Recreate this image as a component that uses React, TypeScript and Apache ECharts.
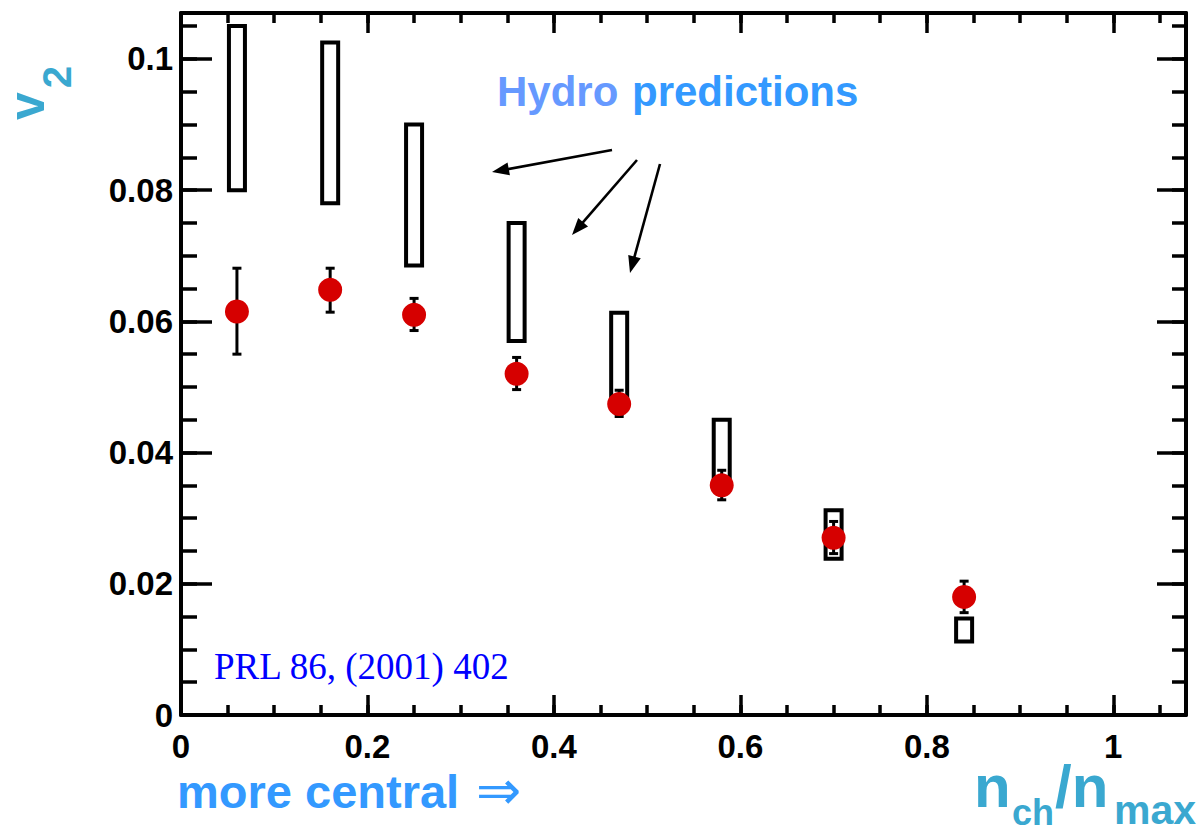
import React, { useEffect, useRef } from "react";
import * as echarts from "echarts";

// ---- data ----
const nchFrac = [0.06, 0.16, 0.25, 0.36, 0.47, 0.58, 0.70, 0.84];
const v2Measured = [0.0615, 0.0648, 0.0610, 0.0520, 0.0474, 0.0350, 0.0270, 0.0180];
const v2ErrLow = [0.0550, 0.0614, 0.0586, 0.0496, 0.0455, 0.0328, 0.0246, 0.0156];
const v2ErrHigh = [0.0681, 0.0681, 0.0635, 0.0545, 0.0495, 0.0373, 0.0295, 0.0204];
const hydroLow = [0.0800, 0.0780, 0.0685, 0.0570, 0.0475, 0.0358, 0.0238, 0.0112];
const hydroHigh = [0.1050, 0.1025, 0.0900, 0.0750, 0.0613, 0.0450, 0.0312, 0.0147];

const xTickLabels = [0, 0.2, 0.4, 0.6, 0.8, 1];
const yTickLabels = [0, 0.02, 0.04, 0.06, 0.08, 0.1];

const X_MAX = 1.078;
const Y_MAX = 0.107;

const FONT = "'Liberation Sans', Arial, Helvetica, sans-serif";
const TEAL = "#3aa8d0";
const BLUE = "#3399ff";

function arrow(x1: number, y1: number, x2: number, y2: number) {
  const dx = x2 - x1;
  const dy = y2 - y1;
  const len = Math.sqrt(dx * dx + dy * dy);
  const ux = dx / len;
  const uy = dy / len;
  const L = 17;
  const W = 6.5;
  const bx = x2 - ux * L;
  const by = y2 - uy * L;
  return [
    {
      type: "line",
      shape: { x1, y1, x2: bx + ux * 2, y2: by + uy * 2 },
      style: { stroke: "#000", lineWidth: 2.6 },
      z: 100,
    },
    {
      type: "polygon",
      shape: {
        points: [
          [x2, y2],
          [bx - uy * W, by + ux * W],
          [bx + uy * W, by - ux * W],
        ],
      },
      style: { fill: "#000" },
      z: 100,
    },
  ];
}

function axisCommon(extra: any) {
  return {
    type: "value",
    axisLine: { show: false, onZero: false, lineStyle: { color: "#000", width: 4 } },
    splitLine: { show: false },
    axisLabel: { show: false },
    ...extra,
  };
}

export default function App() {
  const ref = useRef<HTMLDivElement>(null);

  useEffect(() => {
    if (!ref.current) return;
    const chart = echarts.init(ref.current, undefined, { renderer: "svg" });

    const labelStyle = {
      show: true,
      color: "#000",
      fontSize: 33,
      fontWeight: "bold",
      fontFamily: FONT,
      showMaxLabel: false,
      formatter: (v: number) => {
        const hit = [...xTickLabels, ...yTickLabels].find((t) => Math.abs(t - v) < 1e-9);
        return hit === undefined ? "" : String(hit);
      },
    };

    const xAxes = [
      axisCommon({
        position: "bottom",
        min: 0,
        max: X_MAX,
        interval: 0.2,
        axisLine: { show: true, onZero: false, lineStyle: { color: "#000", width: 4 } },
        axisTick: { show: true, inside: true, length: 20, lineStyle: { color: "#000", width: 3.5 } },
        axisLabel: { ...labelStyle, margin: 15 },
      }),
      axisCommon({
        position: "bottom",
        min: 0,
        max: X_MAX,
        interval: 0.05,
        axisTick: { show: true, inside: true, length: 10, lineStyle: { color: "#000", width: 3.5 } },
      }),
      axisCommon({
        position: "top",
        min: 0,
        max: X_MAX,
        interval: 0.2,
        axisLine: { show: true, onZero: false, lineStyle: { color: "#000", width: 4 } },
        axisTick: { show: true, inside: true, length: 20, lineStyle: { color: "#000", width: 3.5 } },
      }),
      axisCommon({
        position: "top",
        min: 0,
        max: X_MAX,
        interval: 0.05,
        axisTick: { show: true, inside: true, length: 10, lineStyle: { color: "#000", width: 3.5 } },
      }),
    ];

    const yAxes = [
      axisCommon({
        position: "left",
        min: 0,
        max: Y_MAX,
        interval: 0.02,
        axisLine: { show: true, onZero: false, lineStyle: { color: "#000", width: 4 } },
        axisTick: { show: true, inside: true, length: 31, lineStyle: { color: "#000", width: 3.5 } },
        axisLabel: { ...labelStyle, margin: 8 },
      }),
      axisCommon({
        position: "left",
        min: 0,
        max: Y_MAX,
        interval: 0.005,
        axisTick: { show: true, inside: true, length: 16, lineStyle: { color: "#000", width: 3.5 } },
      }),
      axisCommon({
        position: "right",
        min: 0,
        max: Y_MAX,
        interval: 0.02,
        axisLine: { show: true, onZero: false, lineStyle: { color: "#000", width: 4 } },
        axisTick: { show: true, inside: true, length: 29, lineStyle: { color: "#000", width: 3.5 } },
      }),
      axisCommon({
        position: "right",
        min: 0,
        max: Y_MAX,
        interval: 0.005,
        axisTick: { show: true, inside: true, length: 14, lineStyle: { color: "#000", width: 3.5 } },
      }),
    ];

    const hydroData = nchFrac.map((x, i) => [x, hydroLow[i], hydroHigh[i]]);
    const errData = nchFrac.map((x, i) => [x, v2ErrLow[i], v2ErrHigh[i]]);
    const pointData = nchFrac.map((x, i) => [x, v2Measured[i]]);

    const tealText = (text: string, x: number, y: number, fontSize: number, lineHeight: number) => ({
      type: "text",
      x,
      y,
      style: {
        text,
        fill: TEAL,
        fontSize,
        lineHeight,
        fontWeight: "bold",
        fontFamily: FONT,
        align: "left",
        verticalAlign: "middle",
      },
    });

    const graphic: any[] = [
      {
        type: "text",
        x: 27,
        y: 106,
        rotation: Math.PI / 2,
        style: {
          text: "v",
          fill: TEAL,
          fontSize: 50,
          lineHeight: 36,
          fontWeight: "bold",
          fontFamily: FONT,
          align: "center",
          verticalAlign: "middle",
        },
      },
      {
        type: "text",
        x: 57,
        y: 77,
        rotation: Math.PI / 2,
        style: {
          text: "2",
          fill: TEAL,
          fontSize: 40,
          lineHeight: 32,
          fontWeight: "bold",
          fontFamily: FONT,
          align: "center",
          verticalAlign: "middle",
        },
      },
      {
        type: "text",
        x: 497,
        y: 91,
        style: {
          text: "Hydro",
          fill: "#6699ff",
          fontSize: 42,
          fontWeight: "bold",
          fontFamily: FONT,
          align: "left",
          verticalAlign: "middle",
        },
      },
      {
        type: "text",
        x: 632,
        y: 91,
        style: {
          text: "predictions",
          fill: BLUE,
          fontSize: 42,
          fontWeight: "bold",
          fontFamily: FONT,
          align: "left",
          verticalAlign: "middle",
        },
      },
      {
        type: "text",
        x: 214,
        y: 666,
        style: {
          text: "PRL 86, (2001) 402",
          fill: "#0000ff",
          fontSize: 37,
          fontFamily: "'Liberation Serif', 'Times New Roman', serif",
          align: "left",
          verticalAlign: "middle",
        },
      },
      {
        type: "text",
        x: 177,
        y: 791,
        style: {
          text: "more central",
          fill: BLUE,
          fontSize: 47,
          fontWeight: "bold",
          fontFamily: FONT,
          align: "left",
          verticalAlign: "middle",
        },
      },
      {
        type: "text",
        x: 476,
        y: 790,
        style: {
          text: "\u21D2",
          fill: BLUE,
          fontSize: 54,
          lineHeight: 44,
          fontFamily: "'DejaVu Sans', sans-serif",
          align: "left",
          verticalAlign: "middle",
        },
      },
      tealText("n", 974, 786, 60, 44),
      tealText("ch", 1012, 812, 36, 26),
      tealText("/n", 1055, 786, 60, 44),
      tealText("max", 1114, 810, 41, 28),
      ...arrow(612, 150, 492, 172),
      ...arrow(637, 160, 572, 235),
      ...arrow(660, 164, 630, 273),
    ];

    chart.setOption({
      animation: false,
      backgroundColor: "#fff",
      grid: { left: 181, right: 18, top: 13, bottom: 117, containLabel: false },
      xAxis: xAxes,
      yAxis: yAxes,
      graphic,
      series: [
        {
          type: "custom",
          name: "Hydro predictions",
          xAxisIndex: 0,
          yAxisIndex: 0,
          encode: { x: 0, y: [1, 2] },
          data: hydroData,
          renderItem: (params: any, api: any) => {
            const x = api.value(0);
            const top = api.coord([x, api.value(2)]);
            const bot = api.coord([x, api.value(1)]);
            const hw = 8;
            return {
              type: "rect",
              shape: { x: top[0] - hw, y: top[1], width: hw * 2, height: bot[1] - top[1] },
              style: { fill: "none", stroke: "#000", lineWidth: 4 },
            };
          },
          z: 3,
        },
        {
          type: "custom",
          name: "v2 errors",
          xAxisIndex: 0,
          yAxisIndex: 0,
          encode: { x: 0, y: [1, 2] },
          data: errData,
          renderItem: (params: any, api: any) => {
            const x = api.value(0);
            const hi = api.coord([x, api.value(2)]);
            const lo = api.coord([x, api.value(1)]);
            const cw = 4.5;
            const st = { stroke: "#000", lineWidth: 3 };
            return {
              type: "group",
              children: [
                { type: "line", shape: { x1: hi[0], y1: hi[1], x2: lo[0], y2: lo[1] }, style: st },
                { type: "line", shape: { x1: hi[0] - cw, y1: hi[1], x2: hi[0] + cw, y2: hi[1] }, style: st },
                { type: "line", shape: { x1: lo[0] - cw, y1: lo[1], x2: lo[0] + cw, y2: lo[1] }, style: st },
              ],
            };
          },
          z: 4,
        },
        {
          type: "scatter",
          name: "v2",
          xAxisIndex: 0,
          yAxisIndex: 0,
          data: pointData,
          symbol: "circle",
          symbolSize: 24,
          itemStyle: { color: "#d60000", opacity: 1 },
          z: 5,
        },
      ],
    });

    return () => chart.dispose();
  }, []);

  return (
    <div
      ref={ref}
      style={{ position: "fixed", left: 0, top: 0, width: 1204, height: 832, background: "#fff" }}
    />
  );
}
